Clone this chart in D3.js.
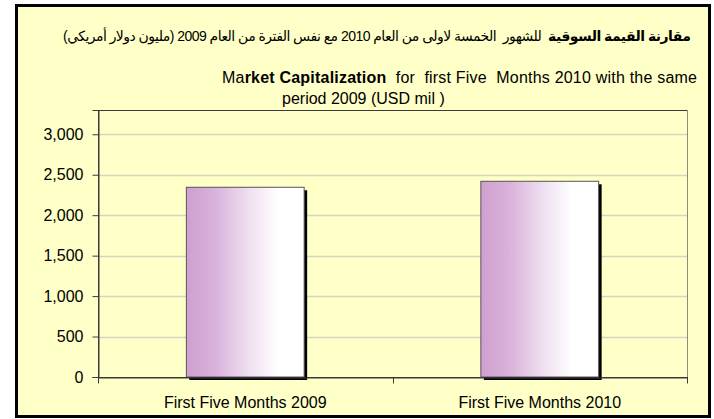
<!DOCTYPE html>
<html>
<head>
<meta charset="utf-8">
<script src="https://cdn.jsdelivr.net/npm/d3@7"></script>
<style>
  body { margin: 0; background: #fff; }
  text { font-family: "Liberation Sans", Arial, "DejaVu Sans", sans-serif; fill: #000; }
</style>
</head>
<body>
<div id="chart"></div>
<script>
var categories = ["First Five Months 2009", "First Five Months 2010"];
var values = [2345, 2419];
var yTicks = [0, 500, 1000, 1500, 2000, 2500, 3000];

var width = 714;
var height = 419;

var margin = {
   top: 110,
   left: 98,
   bottom: 42,
   right: 25
};

var svg = d3.select('#chart')
   .append("svg")
   .attr("width", width)
   .attr("height", height);

// gradient for the bars
var defs = svg.append("defs");
var grad = defs.append("linearGradient")
   .attr("id", "barGrad")
   .attr("x1", "0%").attr("x2", "100%")
   .attr("y1", "0%").attr("y2", "0%");
grad.append("stop").attr("offset", "0%").attr("stop-color", "#cf9fd0");
grad.append("stop").attr("offset", "25%").attr("stop-color", "#d9b3db");
grad.append("stop").attr("offset", "55%").attr("stop-color", "#f1e2f2");
grad.append("stop").attr("offset", "78%").attr("stop-color", "#ffffff");
grad.append("stop").attr("offset", "100%").attr("stop-color", "#ffffff");

// outer frame
svg.append("rect")
   .attr("x", 16.5)
   .attr("y", 5.5)
   .attr("width", 693)
   .attr("height", 411)
   .attr("fill", "#ffffc8")
   .attr("stroke", "#000")
   .attr("stroke-width", 3);

// titles
svg.append("text")
   .attr("x", 691)
   .attr("y", 41)
   .attr("direction", "rtl")
   .attr("text-anchor", "start")
   .attr("xml:space", "preserve")
   .attr("textLength", 628)
   .attr("lengthAdjust", "spacing")
   .style("font-size", "14px")
   .call(function (t) {
      t.append("tspan").style("font-weight", "bold").text("مقارنة القيمة السوقية");
      t.append("tspan").text("  للشهور  الخمسة لاولى من العام 2010 مع نفس الفترة من العام 2009 (مليون دولار أمريكي)");
   });

var eng = svg.append("text")
   .attr("x", 222)
   .attr("y", 83)
   .attr("xml:space", "preserve")
   .attr("textLength", 475)
   .attr("lengthAdjust", "spacing")
   .style("font-size", "16px");
eng.append("tspan").text("Ma");
eng.append("tspan").style("font-weight", "bold").text("rket Capitalization");
eng.append("tspan").text("  for  first Five  Months 2010 with the same");

svg.append("text")
   .attr("x", 282)
   .attr("y", 104)
   .style("font-size", "16px")
   .text("period 2009 (USD mil )");

var plotW = width - margin.left - margin.right - 2;
var plotH = height - margin.top - margin.bottom;

var g = svg.append("g")
   .attr("transform", "translate(" + margin.left + "," + margin.top + ")");

var xScale = d3.scaleBand()
   .domain(categories)
   .range([0, plotW])
   .padding(0);

var yScale = d3.scaleLinear()
   .domain([0, 3300])
   .range([plotH, 0]);

// plot area border
g.append("rect")
   .attr("x", 0.5)
   .attr("y", 0.5)
   .attr("width", plotW)
   .attr("height", plotH)
   .attr("fill", "none")
   .attr("stroke", "#3a3a3a")
   .attr("stroke-width", 1);
g.append("line")
   .attr("x1", plotW + 0.5).attr("x2", plotW + 0.5)
   .attr("y1", 0).attr("y2", plotH)
   .attr("stroke", "#8a8a80");

// gridlines
g.selectAll(".grid")
   .data(yTicks.filter(function (d) { return d > 0; }))
   .enter().append("line")
   .attr("class", "grid")
   .attr("x1", 1)
   .attr("x2", plotW)
   .attr("y1", function (d) { return Math.round(yScale(d)) + 0.5; })
   .attr("y2", function (d) { return Math.round(yScale(d)) + 0.5; })
   .attr("stroke", "#d4d4c4")
   .attr("stroke-width", 1.5);

// bars
var barW = xScale.bandwidth() * 0.4;
var bars = g.selectAll(".bar")
   .data(values)
   .enter().append("g")
   .attr("class", "bar");

bars.append("rect")
   .attr("x", function (d, i) { return xScale(categories[i]) + (xScale.bandwidth() - barW) / 2 + 3; })
   .attr("y", function (d) { return yScale(d) + 3; })
   .attr("width", barW)
   .attr("height", function (d) { return plotH - yScale(d); })
   .attr("fill", "#000");

bars.append("rect")
   .attr("x", function (d, i) { return xScale(categories[i]) + (xScale.bandwidth() - barW) / 2; })
   .attr("y", function (d) { return yScale(d); })
   .attr("width", barW)
   .attr("height", function (d) { return plotH - yScale(d); })
   .attr("fill", "url(#barGrad)")
   .attr("stroke", "#555")
   .attr("stroke-width", 1);

// y axis
var yAxis = d3.axisLeft(yScale)
   .tickValues(yTicks)
   .tickSize(6)
   .tickPadding(9)
   .tickFormat(d3.format(","));

var gY = g.append("g")
   .attr("transform", "translate(0.5,0)")
   .call(yAxis);
gY.select(".domain").attr("stroke", "#3a3a3a");
gY.selectAll(".tick line").attr("stroke", "#3a3a3a");
gY.selectAll(".tick text")
   .style("font-size", "16px")
   .style("font-family", "'Liberation Sans', Arial, sans-serif")
   .attr("fill", "#000");

// x axis
var xAxis = d3.axisBottom(xScale)
   .tickSize(0)
   .tickPadding(19);

var gX = g.append("g")
   .attr("transform", "translate(0," + (plotH + 0.5) + ")")
   .call(xAxis);
gX.select(".domain").attr("stroke", "#3a3a3a");
gX.selectAll(".tick text")
   .style("font-size", "16px")
   .style("font-family", "'Liberation Sans', Arial, sans-serif")
   .attr("fill", "#000");

// category separator ticks
gX.selectAll(".sep")
   .data([0, 1, 2])
   .enter().append("line")
   .attr("class", "sep")
   .attr("x1", function (d) { return Math.round(d * xScale.step()) + 0.5; })
   .attr("x2", function (d) { return Math.round(d * xScale.step()) + 0.5; })
   .attr("y1", 0)
   .attr("y2", 6)
   .attr("stroke", "#3a3a3a");
</script>
</body>
</html>
